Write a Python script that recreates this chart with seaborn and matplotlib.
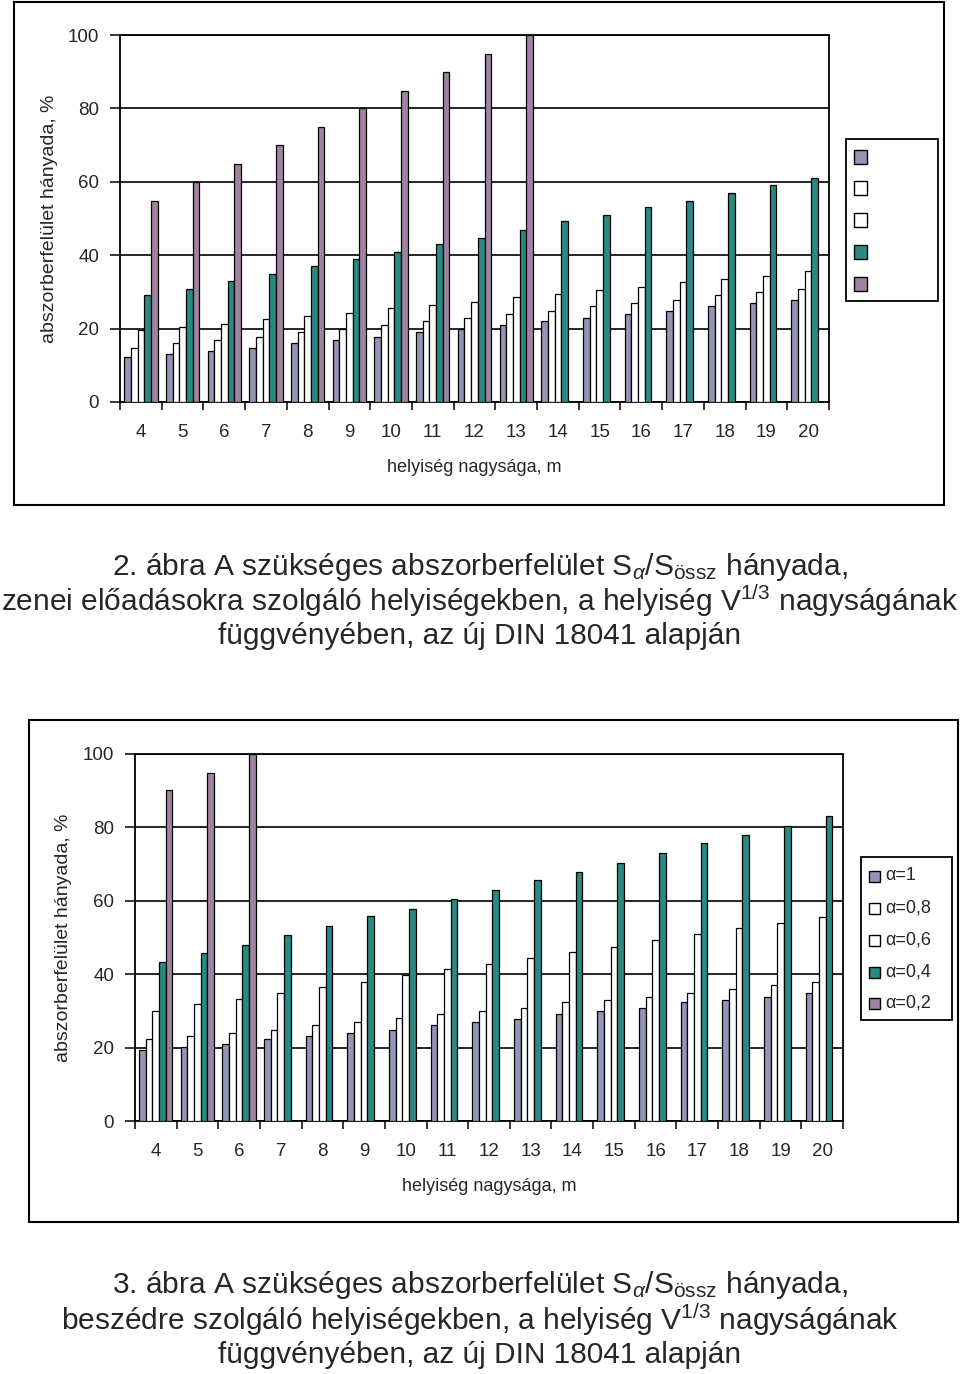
import matplotlib
matplotlib.use("Agg")
import matplotlib.pyplot as plt
from matplotlib.patches import Rectangle
from matplotlib import font_manager
import pandas as pd
import seaborn as sns

W, H = 960, 1374

sizes = list(range(4, 21))
alpha_levels = ["1", "0,8", "0,6", "0,4", "0,2"]
legend_labels = ["α=1", "α=0,8", "α=0,6", "α=0,4", "α=0,2"]
bar_colors = ["#9494b4", "#ffffff", "#ffffff", "#2a8a82", "#a083a0"]

# 2. ábra - zenei előadások
music_a10 = [12.2, 13.1, 14.0, 14.8, 16.2, 17.0, 17.8, 19.1, 19.9, 20.9, 22.2, 23.0, 23.9, 24.8, 26.1, 27.0, 27.8]
music_a08 = [14.7, 16.1, 16.9, 17.8, 19.1, 19.8, 20.9, 22.2, 23.0, 23.9, 24.7, 26.2, 27.0, 27.8, 29.2, 30.0, 30.9]
music_a06 = [19.7, 20.4, 21.3, 22.6, 23.5, 24.3, 25.7, 26.5, 27.3, 28.7, 29.5, 30.5, 31.4, 32.6, 33.5, 34.4, 35.7]
music_a04 = [29.2, 30.9, 33.1, 34.8, 37.0, 39.1, 40.9, 43.1, 44.8, 47.0, 49.2, 50.9, 53.1, 54.8, 57.0, 59.2, 60.9]
music_a02 = [54.8, 60.0, 64.8, 70.0, 74.8, 80.0, 84.8, 90.0, 94.8, 100.0,
             None, None, None, None, None, None, None]

# 3. ábra - beszéd
speech_a10 = [19.3, 20.1, 21.0, 22.3, 23.2, 24.0, 24.9, 26.2, 27.1, 27.8, 29.2, 30.1, 30.9, 32.3, 33.1, 33.9, 34.9]
speech_a08 = [22.3, 23.2, 24.0, 24.9, 26.2, 27.1, 28.0, 29.2, 30.1, 30.9, 32.3, 33.1, 33.9, 34.9, 36.1, 37.0, 37.8]
speech_a06 = [30.1, 31.9, 33.2, 34.9, 36.6, 38.0, 39.7, 41.4, 42.7, 44.4, 46.1, 47.5, 49.2, 51.0, 52.7, 53.9, 55.7]
speech_a04 = [43.2, 45.8, 48.0, 50.6, 53.1, 55.8, 57.9, 60.6, 63.0, 65.7, 67.9, 70.4, 73.1, 75.7, 77.8, 80.4, 83.0]
speech_a02 = [90.2, 94.9, 100.0,
              None, None, None, None, None, None, None, None, None, None, None, None, None, None]

y_label = "abszorberfelület hányada, %"
x_label = "helyiség nagysága, m"

sns.set_style("white")
plt.rcParams["font.family"] = ["Liberation Sans", "DejaVu Sans"]

names = {f.name for f in font_manager.fontManager.ttflist}
if "Liberation Sans Narrow" in names:
    cap_font, cap_size = "Liberation Sans Narrow", 21
else:
    cap_font, cap_size = "Liberation Sans", 21.5
plt.rcParams["mathtext.fontset"] = "custom"
plt.rcParams["mathtext.rm"] = cap_font
plt.rcParams["mathtext.it"] = cap_font + ":italic"


def fx(x):
    return x / W


def fy(y):
    return 1 - y / H


def frame(fig, x0, y0, x1, y1, lw=1.5):
    fig.add_artist(Rectangle((fx(x0), fy(y1)), fx(x1) - fx(x0), fy(y0) - fy(y1),
                             transform=fig.transFigure, fill=False,
                             edgecolor="black", linewidth=lw))


def draw_panel(ax, series):
    rows = []
    for lvl, vals in zip(alpha_levels, series):
        for s, v in zip(sizes, vals):
            if v is not None:
                rows.append((s, lvl, v))
    df = pd.DataFrame(rows, columns=["size", "alpha", "value"])
    sns.barplot(data=df, x="size", y="value", hue="alpha", hue_order=alpha_levels,
                order=sizes, palette=bar_colors, saturation=1, width=0.8,
                edgecolor="black", linewidth=0.9, legend=False, ax=ax, zorder=3)
    ax.set_xlim(-0.5, len(sizes) - 0.5)
    ax.set_ylim(0, 100)
    ax.set_yticks(range(0, 101, 20))
    ax.set_xticks(range(len(sizes)))
    ax.set_xticklabels([str(s) for s in sizes])
    ax.set_xticks([i - 0.5 for i in range(len(sizes) + 1)], minor=True)
    ax.set_axisbelow(True)
    ax.yaxis.grid(True, color="black", linewidth=1.2)
    for sp in ax.spines.values():
        sp.set_visible(True)
        sp.set_color("black")
        sp.set_linewidth(1.3)
    ax.tick_params(axis="x", which="major", bottom=True, length=0, pad=16, labelsize=13.5)
    ax.tick_params(axis="x", which="minor", bottom=True, length=6, width=1.3, direction="out")
    ax.tick_params(axis="y", left=True, length=7, width=1.3, pad=8, labelsize=13.5)
    ax.set_ylabel(y_label, fontsize=14)
    ax.set_xlabel(x_label, fontsize=13)
    ax.xaxis.set_label_coords(0.5, -0.155)


def draw_legend(fig, box, ys, labels, sq, text_x):
    frame(fig, *box, lw=1.3)
    sq_x = box[0] + 8
    for y, col, lab in zip(ys, bar_colors, labels):
        fig.add_artist(Rectangle((fx(sq_x), fy(y + sq / 2)), sq / W, sq / H,
                                 transform=fig.transFigure, facecolor=col,
                                 edgecolor="black", linewidth=1.0))
        if lab:
            fig.text(fx(text_x), fy(y), lab, fontsize=13, va="center", ha="left")


fig = plt.figure(figsize=(W / 100, H / 100), dpi=100)

# 2. ábra
ax1 = fig.add_axes([fx(120), fy(402), (829 - 120) / W, (402 - 35) / H])
draw_panel(ax1, [music_a10, music_a08, music_a06, music_a04, music_a02])
ax1.yaxis.set_label_coords(-0.087, 0.5)
frame(fig, 14, 2, 944, 505)
draw_legend(fig, (846, 139, 938, 301), [157, 188, 220, 252, 284],
            ["", "", "", "", ""], 13, 880)

# 3. ábra
ax2 = fig.add_axes([fx(135), fy(1121), (843 - 135) / W, (1121 - 754) / H])
draw_panel(ax2, [speech_a10, speech_a08, speech_a06, speech_a04, speech_a02])
ax2.yaxis.set_label_coords(-0.089, 0.5)
frame(fig, 29, 720, 958, 1222)
draw_legend(fig, (861, 857, 952, 1020), [876, 908, 940, 972, 1003],
            legend_labels, 11, 885)

cap_kw = dict(ha="center", va="center", fontsize=cap_size, family=cap_font)
fig.text(0.5, fy(567), r"2. ábra A szükséges abszorberfelület S$_{\alpha}$/S$_{\mathrm{össz}}$ hányada,", **cap_kw)
fig.text(0.5, fy(601), r"zenei előadásokra szolgáló helyiségekben, a helyiség V$^{1/3}$ nagyságának", **cap_kw)
fig.text(0.5, fy(636), "függvényében, az új DIN 18041 alapján", **cap_kw)

fig.text(0.5, fy(1285), r"3. ábra A szükséges abszorberfelület S$_{\alpha}$/S$_{\mathrm{össz}}$ hányada,", **cap_kw)
fig.text(0.5, fy(1320), r"beszédre szolgáló helyiségekben, a helyiség V$^{1/3}$ nagyságának", **cap_kw)
fig.text(0.5, fy(1355), "függvényében, az új DIN 18041 alapján", **cap_kw)

fig.savefig("out.png", dpi=100)
